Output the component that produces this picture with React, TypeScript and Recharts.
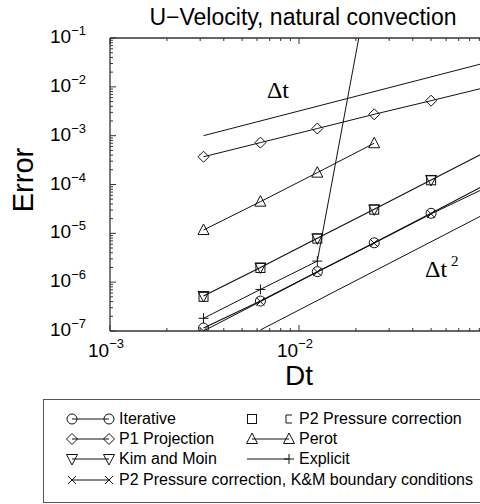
import React from 'react';
import { LineChart, Line, XAxis, YAxis, Legend } from 'recharts';

// time steps used in the convergence study
const dtSteps = [0.003125, 0.00625, 0.0125, 0.025, 0.05, 0.1];

// u-velocity error per scheme
const iterativeErr = [1.15e-7, 4.1e-7, 1.64e-6, 6.4e-6, 2.57e-5, 1.05e-4];
const p2KmErr = [1.0e-7, 4.0e-7, 1.62e-6, 6.3e-6, 2.5e-5, 9.0e-5];
const p1ProjectionErr = [3.7e-4, 7.2e-4, 1.4e-3, 2.74e-3, 5.2e-3, 1.0e-2];
const perotErr = [1.17e-5, 4.45e-5, 1.75e-4, 7.0e-4];
const kimMoinErr = [5.2e-7, 2.0e-6, 7.9e-6, 3.1e-5, 1.24e-4, 4.9e-4];
const p2PressureErr = [5.0e-7, 1.95e-6, 7.8e-6, 3.05e-5, 1.22e-4, 4.8e-4];
const explicitErr = [1.82e-7, 7.1e-7, 2.7e-6, 5.0];

// first and second order guide lines
const firstOrderDt = [0.003125, 0.1];
const firstOrderErr = [1.0e-3, 3.2e-2];
const secondOrderDt = [0.00625, 0.1];
const secondOrderErr = [1.05e-7, 2.69e-5];

// axis decades
const xDecades = [-3, -2, -1];
const xLabelled = [-3, -2];
const yDecades = [-7, -6, -5, -4, -3, -2, -1];

const sans = '"Liberation Sans", Arial, Helvetica, sans-serif';
const serif = '"Liberation Serif", "Times New Roman", serif';
const ink = '#111';

const withMinors = (decades: number[]) => {
  const out: number[] = [];
  decades.forEach((e, i) => {
    const last = i === decades.length - 1;
    (last ? [1] : [1, 2, 3, 4, 5, 6, 7, 8, 9]).forEach((m) => out.push(m * Math.pow(10, e)));
  });
  return out;
};

const series = (xs: number[], ys: number[]) => ys.map((err, i) => ({ dt: xs[i], err }));

const decadeOf = (v: number) => {
  const l = Math.log10(v);
  const e = Math.round(l);
  return { e, major: Math.abs(l - e) < 1e-6 };
};

type Shape = 'circle' | 'diamond' | 'triangle' | 'triangleDown' | 'square' | 'cross' | 'plus' | 'bracket';

const Marker = ({ shape, cx, cy }: { shape: Shape; cx: number; cy: number }) => {
  const p = { fill: 'none', stroke: ink, strokeWidth: 1 };
  switch (shape) {
    case 'circle':
      return <circle cx={cx} cy={cy} r={5} {...p} />;
    case 'diamond':
      return <path d={`M${cx},${cy - 5.5}L${cx + 5.5},${cy}L${cx},${cy + 5.5}L${cx - 5.5},${cy}Z`} {...p} />;
    case 'triangle':
      return <path d={`M${cx},${cy - 6}L${cx + 5.5},${cy + 4.5}L${cx - 5.5},${cy + 4.5}Z`} {...p} />;
    case 'triangleDown':
      return <path d={`M${cx},${cy + 6}L${cx + 5.5},${cy - 4.5}L${cx - 5.5},${cy - 4.5}Z`} {...p} />;
    case 'square':
      return <rect x={cx - 4.5} y={cy - 4.5} width={9} height={9} {...p} />;
    case 'bracket':
      return <path d={`M${cx + 3},${cy - 4}L${cx - 3},${cy - 4}L${cx - 3},${cy + 4}L${cx + 3},${cy + 4}`} {...p} />;
    case 'cross':
      return <path d={`M${cx - 4},${cy - 4}L${cx + 4},${cy + 4}M${cx - 4},${cy + 4}L${cx + 4},${cy - 4}`} {...p} />;
    case 'plus':
      return <path d={`M${cx - 5},${cy}L${cx + 5},${cy}M${cx},${cy - 5}L${cx},${cy + 5}`} {...p} />;
    default:
      return null;
  }
};

const dotOf = (shape: Shape) => (props: any) => {
  const { cx, cy, index } = props;
  if (cx == null || cy == null) return <g key={`${shape}-${index}`} />;
  return <Marker key={`${shape}-${index}`} shape={shape} cx={cx} cy={cy} />;
};

const YTick = (props: any) => {
  const { x, y, payload } = props;
  const { e, major } = decadeOf(payload.value);
  return (
    <g>
      <line x1={x} x2={x + (major ? 6 : 3)} y1={y} y2={y} stroke="#333" strokeWidth={1} />
      {major && (
        <text x={x - 24} y={y + 5} textAnchor="end" fontSize={19} fontFamily={sans} fill="#000">
          10
          <tspan dy={-8} fontSize={13}>{`−${-e}`}</tspan>
        </text>
      )}
    </g>
  );
};

const XTick = (props: any) => {
  const { x, y, payload } = props;
  const { e, major } = decadeOf(payload.value);
  return (
    <g>
      <line x1={x} x2={x} y1={y} y2={y - (major ? 6 : 3)} stroke="#333" strokeWidth={1} />
      {major && xLabelled.includes(e) && (
        <text x={x - 4} y={y + 26} textAnchor="middle" fontSize={19} fontFamily={sans} fill="#000">
          10
          <tspan dy={-9} fontSize={13}>{`−${-e}`}</tspan>
        </text>
      )}
    </g>
  );
};

const TopTick = (props: any) => {
  const { x, y, payload } = props;
  const { major } = decadeOf(payload.value);
  return <line x1={x} x2={x} y1={y} y2={y + (major ? 6 : 3)} stroke="#333" strokeWidth={1} />;
};

const legendItems: { name: string; left: Shape | null; right: Shape; line: boolean; col: number; row: number }[] = [
  { name: 'Iterative', left: 'circle', right: 'circle', line: true, col: 0, row: 0 },
  { name: 'P1 Projection', left: 'diamond', right: 'diamond', line: true, col: 0, row: 1 },
  { name: 'Kim and Moin', left: 'triangleDown', right: 'triangleDown', line: true, col: 0, row: 2 },
  { name: 'P2 Pressure correction', left: 'square', right: 'bracket', line: false, col: 1, row: 0 },
  { name: 'Perot', left: 'triangle', right: 'triangle', line: true, col: 1, row: 1 },
  { name: 'Explicit', left: null, right: 'plus', line: true, col: 1, row: 2 },
  { name: 'P2 Pressure correction, K&M boundary conditions', left: 'cross', right: 'cross', line: true, col: 0, row: 3 },
];

const renderLegend = () => (
  <div
    style={{
      position: 'relative',
      width: '100%',
      height: '100%',
      boxSizing: 'border-box',
      border: '1.5px solid #555',
      background: '#fff',
      fontFamily: sans,
      fontSize: 16,
      color: '#000',
    }}
  >
    {legendItems.map((it) => (
      <div
        key={it.name}
        style={{
          position: 'absolute',
          left: it.col === 0 ? 21 : 201,
          top: [9, 29, 49, 70][it.row],
          height: 20,
          display: 'flex',
          alignItems: 'center',
          whiteSpace: 'nowrap',
        }}
      >
        <svg width={54} height={20} style={{ flex: 'none' }}>
          {it.line && <line x1={it.left ? 7 : 2} x2={44} y1={10} y2={10} stroke={ink} strokeWidth={1} />}
          {it.left && <Marker shape={it.left} cx={7} cy={10} />}
          <Marker shape={it.right} cx={44} cy={10} />
        </svg>
        <span>{it.name}</span>
      </div>
    ))}
  </div>
);

export default function App() {
  return (
    <div style={{ position: 'absolute', left: 0, top: 0, width: 480, height: 504, overflow: 'hidden', background: '#fff' }}>
      <LineChart width={500} height={504} margin={{ top: 28, right: 12, bottom: 143, left: 50 }}>
        <XAxis
          xAxisId="bottom"
          dataKey="dt"
          type="number"
          scale="log"
          domain={[0.001, 0.1]}
          allowDataOverflow
          ticks={withMinors(xDecades)}
          interval={0}
          tickSize={0}
          tickMargin={0}
          tick={<XTick />}
          axisLine={{ stroke: '#333', strokeWidth: 1.3 }}
          height={30}
        />
        <XAxis
          xAxisId="top"
          orientation="top"
          dataKey="dt"
          type="number"
          scale="log"
          domain={[0.001, 0.1]}
          allowDataOverflow
          ticks={withMinors(xDecades)}
          interval={0}
          tickSize={0}
          tickMargin={0}
          tick={<TopTick />}
          axisLine={{ stroke: '#333', strokeWidth: 1.3 }}
          height={10}
        />
        <YAxis
          type="number"
          scale="log"
          domain={[1e-7, 1e-1]}
          allowDataOverflow
          ticks={withMinors(yDecades)}
          interval={0}
          tickSize={0}
          tickMargin={0}
          tick={<YTick />}
          axisLine={{ stroke: '#333', strokeWidth: 1.3 }}
          width={60}
        />

        <Line xAxisId="bottom" data={series(firstOrderDt, firstOrderErr)} dataKey="err" stroke={ink} strokeWidth={1} dot={false} isAnimationActive={false} legendType="none" />
        <Line xAxisId="bottom" data={series(secondOrderDt, secondOrderErr)} dataKey="err" stroke={ink} strokeWidth={1} dot={false} isAnimationActive={false} legendType="none" />
        <Line xAxisId="bottom" data={series(dtSteps, p1ProjectionErr)} dataKey="err" stroke={ink} strokeWidth={1} dot={dotOf('diamond')} isAnimationActive={false} />
        <Line xAxisId="bottom" data={series(dtSteps.slice(0, 4), perotErr)} dataKey="err" stroke={ink} strokeWidth={1} dot={dotOf('triangle')} isAnimationActive={false} />
        <Line xAxisId="bottom" data={series(dtSteps, kimMoinErr)} dataKey="err" stroke={ink} strokeWidth={1.2} dot={dotOf('triangleDown')} isAnimationActive={false} />
        <Line xAxisId="bottom" data={series(dtSteps, p2PressureErr)} dataKey="err" stroke="none" dot={dotOf('square')} isAnimationActive={false} />
        <Line xAxisId="bottom" data={series(dtSteps.slice(0, 4), explicitErr)} dataKey="err" stroke={ink} strokeWidth={1} dot={dotOf('plus')} isAnimationActive={false} />
        <Line xAxisId="bottom" data={series(dtSteps, iterativeErr)} dataKey="err" stroke={ink} strokeWidth={1.2} dot={dotOf('circle')} isAnimationActive={false} />
        <Line xAxisId="bottom" data={series(dtSteps, p2KmErr)} dataKey="err" stroke={ink} strokeWidth={1} dot={dotOf('cross')} isAnimationActive={false} />

        <text x={303} y={25} textAnchor="middle" fontSize={23} fontFamily={sans} fill="#000">
          U−Velocity, natural convection
        </text>
        <text x={33} y={180} transform="rotate(-90 33 180)" textAnchor="middle" fontSize={29} fontFamily={sans} fill="#000">
          Error
        </text>
        <text x={299} y={385} textAnchor="middle" fontSize={28} fontFamily={sans} fill="#000">
          Dt
        </text>
        <text x={278} y={98} textAnchor="middle" fontSize={24} fontFamily={serif} fill="#000">
          Δt
        </text>
        <text x={425} y={277} fontSize={24} fontFamily={serif} fill="#000">
          Δt
          <tspan dx={4} dy={-11} fontSize={15}>2</tspan>
        </text>

        <Legend
          layout="vertical"
          align="center"
          verticalAlign="middle"
          content={renderLegend}
          wrapperStyle={{ left: 43, top: 399, width: 460, height: 104, margin: 0 }}
        />
      </LineChart>
    </div>
  );
}
